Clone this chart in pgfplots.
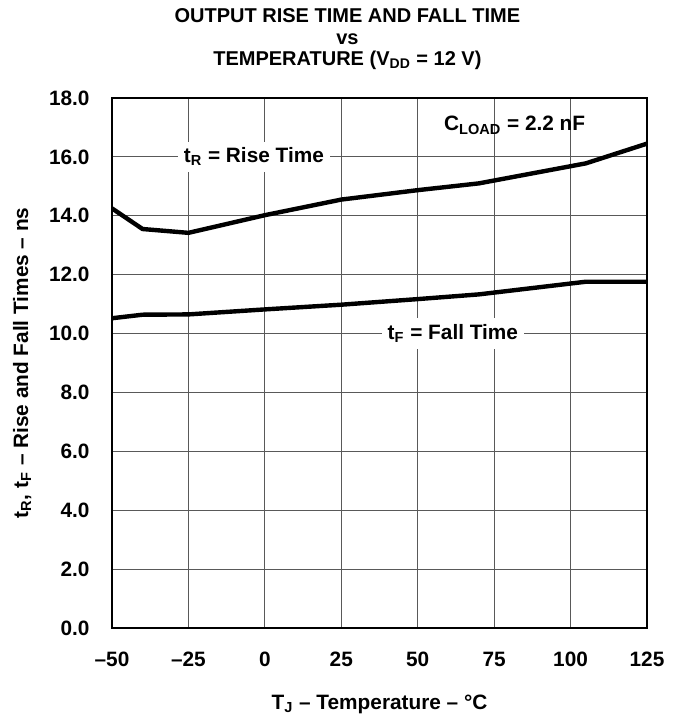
\documentclass[border=0pt]{standalone}
\usepackage{pgfplots}
\pgfplotsset{compat=1.18}
\usepackage{fontspec}
\setmainfont{Liberation Sans}

\newcommand{\lbl}{\fontsize{10.4}{12}\selectfont\bfseries}

\begin{document}
\begin{tikzpicture}
  \begin{axis}[
      scale only axis,
      width=267.5pt,
      height=265pt,
      xmin=-50, xmax=125,
      ymin=0, ymax=18,
      xtick={-50,-25,0,25,50,75,100,125},
      xticklabels={–50,–25,0,25,50,75,100,125},
      ytick={0,2,...,18},
      yticklabel={\pgfmathprintnumber[fixed,fixed zerofill,precision=1]{\tick}},
      /pgf/number format/assume math mode=true,
      major tick length=0pt,
      grid=major,
      grid style={black!65, line width=0.5pt},
      axis line style={line width=0.7pt},
      tick label style={font=\lbl},
      yticklabel style={xshift=-7.7pt},
      xticklabel style={anchor=base, yshift=-19.5pt},
      label style={font=\lbl},
      xlabel={T\textsubscript{J} – Temperature – °C},
      xlabel style={at={(axis description cs:0.5,0)}, anchor=base, yshift=-40.5pt},
      ylabel={t\textsubscript{R}, t\textsubscript{F} – Rise and Fall Times – ns},
      ylabel style={at={(axis description cs:-0.157,0.5)}, anchor=base},
      title={OUTPUT RISE TIME AND FALL TIME\\vs\\TEMPERATURE (V\textsubscript{DD} = 12 V)},
      title style={align=center, font=\fontsize{10}{10.8}\selectfont\bfseries,
        at={(0.44,1)}, anchor=south, yshift=4.5pt},
    ]
    % rise time
    \addplot[black, line width=2.2pt] coordinates {
      (-50,14.25) (-40,13.55) (-25,13.42) (0,14.02) (25,14.55)
      (50,14.87) (70,15.1) (105,15.78) (125,16.45)
    };
    % fall time
    \addplot[black, line width=2.2pt] coordinates {
      (-50,10.52) (-40,10.64) (-25,10.65) (0,10.82) (25,10.98)
      (50,11.17) (70,11.33) (105,11.76) (125,11.76)
    };

    \node[fill=white, inner sep=3pt, font=\lbl]
      at (axis cs:-3.6,16) {t\textsubscript{R} = Rise Time};
    \node[fill=white, inner sep=3pt, font=\lbl]
      at (axis cs:61.5,10) {t\textsubscript{F} = Fall Time};
    \node[font=\lbl]
      at (axis cs:81.7,17.07) {C\textsubscript{LOAD} = 2.2 nF};

    \coordinate (ll) at (rel axis cs:0,0);
    \coordinate (ur) at (rel axis cs:1,1);
  \end{axis}
  \pgfresetboundingbox
  \useasboundingbox ([xshift=-56pt,yshift=-46.5pt]ll) rectangle ([xshift=13pt,yshift=49pt]ur);
\end{tikzpicture}
\end{document}
